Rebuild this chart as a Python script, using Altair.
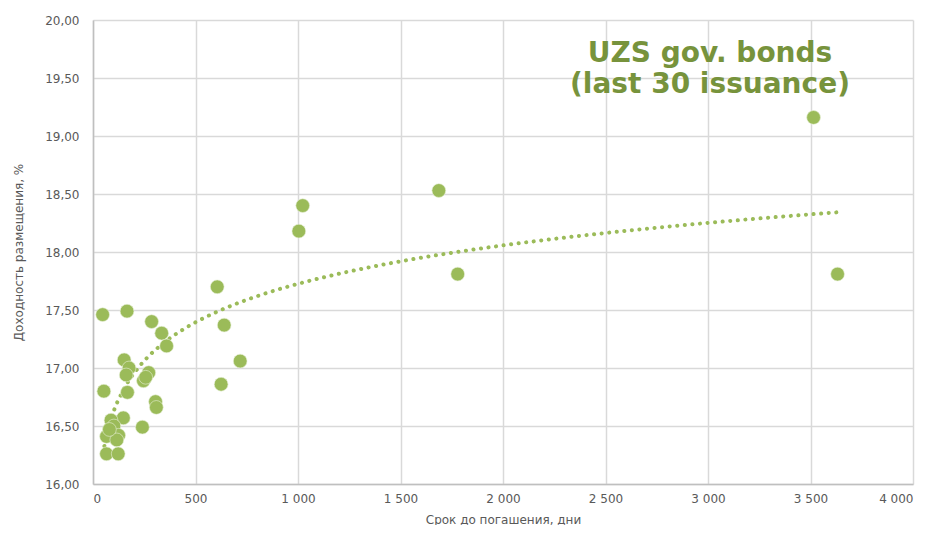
import altair as alt
import pandas as pd

days = [47, 166, 286, 335, 359, 152, 176, 162, 272, 246, 257, 53, 168, 305, 309, 241, 148,
        88, 102, 66, 125, 116, 66, 123, 80,
        606, 640, 718, 625, 1004, 1023, 1687, 1779, 3515, 3632]
yields = [17.46, 17.49, 17.40, 17.30, 17.19, 17.07, 17.00, 16.94, 16.96, 16.89, 16.92, 16.80, 16.79, 16.71, 16.66, 16.49, 16.57,
          16.55, 16.50, 16.41, 16.42, 16.38, 16.26, 16.26, 16.47,
          17.70, 17.37, 17.06, 16.86, 18.18, 18.40, 18.53, 17.81, 19.16, 17.81]

title_lines = ["UZS gov. bonds", "(last 30 issuance)"]

df = pd.DataFrame({"d": days, "v": yields})

GREEN = "#9BBB59"
FONT = "DejaVu Sans"

xscale = alt.Scale(domain=[0, 4000], nice=False)
yscale = alt.Scale(domain=[16, 20], nice=False, zero=False)

xaxis = alt.Axis(
    title="Срок до погашения, дни", values=list(range(0, 4001, 500)),
    labelExpr="replace(format(datum.value, ','), ',', ' ')",
    grid=True, gridColor="#D9D9D9", gridWidth=1.5,
    domainColor="#BFBFBF", domainWidth=1.5, ticks=False,
    labelColor="#595959", labelFont=FONT, labelFontSize=12, labelPadding=9,
    titleColor="#595959", titleFont=FONT, titleFontSize=12, titleFontWeight="normal", titlePadding=10,
)
yaxis = alt.Axis(
    title="Доходность размещения, %", values=[16, 16.5, 17, 17.5, 18, 18.5, 19, 19.5, 20],
    labelExpr="replace(format(datum.value, '.2f'), '.', ',')",
    grid=True, gridColor="#D9D9D9", gridWidth=1.5,
    domainColor="#BFBFBF", domainWidth=1.5, ticks=False,
    labelColor="#595959", labelFont=FONT, labelFontSize=12, labelPadding=14,
    titleColor="#595959", titleFont=FONT, titleFontSize=12, titleFontWeight="normal", titlePadding=19,
)

X = alt.X("d:Q", scale=xscale, axis=xaxis)
Y = alt.Y("v:Q", scale=yscale, axis=yaxis)

base = alt.Chart(df)

points = base.mark_circle(size=190, color=GREEN, opacity=1, stroke="#E8F0D8", strokeWidth=0.6).encode(
    x=X, y=Y,
)

trend = base.transform_regression("d", "v", method="log").mark_line(
    color=GREEN, strokeWidth=4, strokeDash=[0.1, 7.5], strokeCap="round"
).encode(
    x=X, y=Y,
)

title_layers = []
for line, ypos in zip(title_lines, [42, 73]):
    title_layers.append(
        alt.Chart(pd.DataFrame({"t": [line]})).mark_text(
            font=FONT, fontSize=28, fontWeight="bold", color="#77933C",
            align="center", baseline="alphabetic"
        ).encode(text="t:N", x=alt.value(617), y=alt.value(ypos))
    )

chart = alt.layer(trend, points, *title_layers).properties(
    width=820, height=464,
    autosize=alt.AutoSizeParams(type="none"),
    padding={"left": 85, "top": 12, "right": 15, "bottom": 41},
).configure_view(stroke=None)

chart.save("out.html", embed_options={"renderer": "svg", "actions": False})
